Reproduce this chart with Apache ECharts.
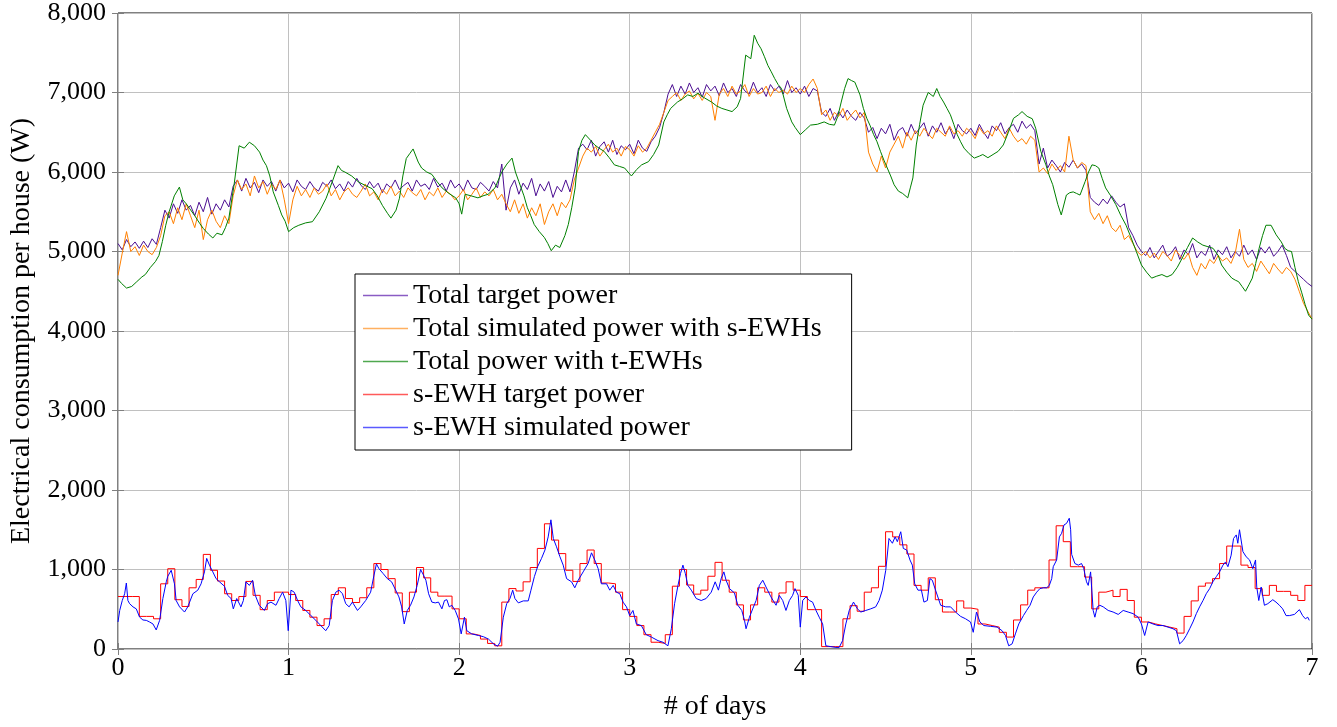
<!DOCTYPE html>
<html>
<head>
<meta charset="utf-8">
<script src="https://cdn.jsdelivr.net/npm/echarts@6/dist/echarts.min.js"></script>
<style>html,body{margin:0;padding:0;background:#fff}#c{width:1337px;height:727px}</style>
</head>
<body>
<div id="c"></div>
<script>
// ---------- DATA ----------
const xTicks = [0, 1, 2, 3, 4, 5, 6, 7];
const yTicks = [0, 1000, 2000, 3000, 4000, 5000, 6000, 7000, 8000];
const seriesNames = ['Total target power', 'Total simulated power with s-EWHs', 'Total power with t-EWHs', 's-EWH target power', 's-EWH simulated power'];

// total series sampled every 0.025 day (40 samples per day)
const SAMPLE_STEP_DAYS = 0.025;
const totalTargetPower = [
  5100,5020,5150,5060,5120,5040,5130,5050,5160,5090,5300,5520,5420,5600,5480,5650,5520,5580,5450,5620,5500,5680,5470,5600,5520,5650,5560,5820,5900,5760,5920,5800,5870,5740,5900,5820,5880,5760,5900,5800,
  5860,5750,5900,5820,5780,5880,5800,5760,5870,5820,5900,5790,5850,5760,5880,5810,5920,5830,5780,5880,5800,5860,5740,5850,5800,5900,5780,5830,5870,5760,5900,5820,5850,5780,5920,5810,5860,5760,5900,5800,
  5850,5760,5900,5800,5780,5870,5820,5760,5880,5800,6100,5520,5800,5900,5720,5860,5780,5920,5700,5850,5760,5880,5680,5820,5750,5900,5750,6000,6300,6350,6280,6400,6200,6320,6380,6250,6400,6220,6330,6280,
  6350,6230,6400,6300,6260,6380,6450,6560,6750,6980,7100,6950,7080,6980,7120,7000,7060,6940,7100,7020,7080,6960,7120,7000,7050,6950,7100,7020,6980,7130,7000,7060,6950,7100,7020,7080,6980,7150,7000,7060,
  6980,7080,6950,7050,7020,6750,6700,6800,6650,6760,6680,6780,6700,6650,6750,6680,6500,6560,6420,6550,6480,6600,6400,6520,6560,6450,6600,6480,6550,6620,6450,6580,6500,6620,6480,6560,6420,6600,6520,6480,
  6550,6460,6600,6500,6420,6580,6520,6620,6480,6560,6600,6500,6640,6550,6600,6520,6100,6300,6050,6150,6080,6000,6120,6060,6150,6050,6100,6020,5680,5620,5580,5660,5600,5700,5620,5560,5600,5300,5200,5080,
  5000,4950,5050,4920,5000,5080,4940,4980,5060,4900,5020,4960,5100,4920,5000,4950,5080,4900,5020,4960,5060,4920,5000,4940,5080,4960,5020,4900,5050,4980,5060,4940,5000,5080,4950,4800,4750,4700,4650,4600,
  4560
];
const totalSimulatedPower = [
  4700,4980,5250,5000,5060,4950,5080,5000,4960,5050,5200,5450,5500,5350,5550,5400,5600,5450,5300,5520,5150,5400,5520,5380,5300,5450,5350,5700,5900,5780,5850,5700,5950,5800,5880,5720,5850,5780,5900,5650,
  5350,5650,5820,5700,5780,5680,5800,5720,5760,5850,5700,5780,5650,5750,5800,5720,5680,5760,5850,5700,5750,5650,5780,5720,5820,5700,5760,5680,5800,5740,5700,5780,5650,5750,5700,5800,5680,5760,5720,5650,
  5700,5780,5650,5720,5800,5680,5750,5700,5780,5650,5720,5600,5500,5650,5480,5600,5420,5550,5450,5600,5340,5500,5600,5450,5620,5550,5650,5900,6050,6200,6300,6250,6320,6200,6280,6350,6250,6300,6200,6320,
  6280,6200,6330,6250,6300,6400,6500,6600,6750,6900,6950,7000,6900,6980,7020,6920,6990,6900,7000,6950,6650,6980,7050,6950,7080,6980,7020,7100,6950,7050,6980,7000,7080,6950,7050,7000,7030,6980,7080,7000,
  7050,7000,7100,7170,7050,6720,6780,6650,6750,6700,6800,6650,6720,6780,6680,6750,6250,6100,6000,6200,6050,6250,6350,6450,6300,6500,6400,6520,6450,6550,6480,6420,6550,6500,6450,6580,6480,6520,6450,6550,
  6500,6420,6560,6480,6520,6450,6580,6500,6420,6550,6450,6380,6420,6350,6450,6400,6000,6050,5980,6100,6020,6080,6000,6450,6150,6050,6120,6080,5500,5400,5480,5350,5450,5300,5250,5330,5150,5200,5100,5000,
  4950,5000,4920,4980,4900,5000,4950,4880,5020,4950,4900,4980,4800,4700,4850,4780,4900,4850,4950,4880,4920,4850,4980,5280,4900,4800,4850,4750,4880,4800,4720,4850,4780,4720,4800,4750,4650,4500,4350,4250,
  4150
];
// [day, W]
const totalPowerTEWH = [
  [0,4650],[0.02,4600],[0.05,4540],[0.08,4560],[0.11,4620],[0.14,4680],[0.16,4710],[0.19,4800],[0.22,4875],[0.24,4950],
  [0.26,5125],[0.28,5330],[0.30,5500],[0.33,5700],[0.36,5810],[0.38,5650],[0.40,5600],[0.42,5540],[0.45,5450],[0.48,5350],
  [0.50,5290],[0.53,5220],[0.556,5170],[0.58,5230],[0.61,5210],[0.63,5300],[0.65,5420],[0.68,5830],[0.71,6330],[0.74,6300],
  [0.77,6375],[0.80,6330],[0.83,6250],[0.85,6150],[0.87,6080],[0.89,5950],[0.91,5750],[0.94,5580],[0.96,5460],[0.98,5380],
  [1.0,5250],[1.03,5300],[1.06,5330],[1.10,5360],[1.14,5375],[1.18,5500],[1.22,5670],[1.26,5900],[1.29,6080],[1.31,6020],
  [1.33,6000],[1.37,5950],[1.41,5875],[1.45,5830],[1.49,5790],[1.52,5700],[1.55,5580],[1.58,5480],[1.60,5420],[1.63,5520],
  [1.65,5670],[1.67,5950],[1.69,6170],[1.71,6230],[1.73,6290],[1.76,6125],[1.78,6050],[1.81,6000],[1.84,5970],[1.87,5880],
  [1.90,5800],[1.94,5730],[1.98,5675],[2.0,5600],[2.015,5470],[2.035,5720],[2.07,5700],[2.11,5675],[2.14,5700],[2.17,5720],
  [2.21,5800],[2.25,6000],[2.28,6100],[2.31,6175],[2.33,6000],[2.35,5880],[2.38,5700],[2.40,5550],[2.42,5450],[2.44,5340],
  [2.47,5250],[2.50,5175],[2.52,5100],[2.54,5010],[2.565,5080],[2.59,5050],[2.62,5200],[2.64,5340],[2.66,5550],[2.68,5800],
  [2.70,6260],[2.72,6400],[2.74,6470],[2.77,6400],[2.795,6340],[2.82,6300],[2.85,6260],[2.88,6180],[2.91,6090],[2.94,6070],
  [2.97,6050],[3.01,5950],[3.04,6030],[3.07,6090],[3.11,6130],[3.14,6220],[3.17,6340],[3.20,6630],[3.22,6720],[3.24,6800],
  [3.28,6880],[3.31,6920],[3.34,6970],[3.37,6950],[3.40,6990],[3.44,6930],[3.48,6880],[3.51,6830],[3.54,6800],[3.57,6780],
  [3.60,6760],[3.63,6820],[3.65,6925],[3.68,7470],[3.71,7425],[3.73,7720],[3.75,7620],[3.77,7550],[3.79,7450],[3.81,7340],
  [3.83,7260],[3.85,7175],[3.87,7100],[3.89,7050],[3.92,6800],[3.95,6630],[3.97,6560],[4.0,6470],[4.03,6530],[4.06,6590],
  [4.10,6600],[4.14,6630],[4.17,6600],[4.20,6590],[4.22,6700],[4.24,6880],[4.26,7050],[4.28,7175],[4.30,7150],[4.32,7130],
  [4.35,6970],[4.37,6800],[4.39,6675],[4.41,6580],[4.43,6470],[4.45,6380],[4.47,6260],[4.49,6150],[4.51,6050],[4.53,5950],
  [4.55,5840],[4.575,5760],[4.60,5730],[4.63,5675],[4.645,5800],[4.66,5925],[4.68,6340],[4.70,6600],[4.72,6840],[4.75,7000],
  [4.78,6950],[4.80,7050],[4.82,6950],[4.84,6880],[4.86,6800],[4.88,6720],[4.90,6600],[4.92,6470],[4.94,6380],[4.96,6300],
  [4.99,6230],[5.02,6175],[5.05,6200],[5.07,6220],[5.10,6180],[5.13,6220],[5.16,6260],[5.19,6340],[5.22,6500],[5.25,6675],
  [5.28,6720],[5.30,6760],[5.33,6700],[5.36,6670],[5.38,6550],[5.41,6260],[5.44,6090],[5.46,5950],[5.48,5840],[5.51,5590],
  [5.53,5460],[5.56,5710],[5.58,5740],[5.60,5750],[5.62,5730],[5.64,5710],[5.67,5880],[5.69,6000],[5.71,6090],[5.73,6080],
  [5.75,6050],[5.77,5920],[5.79,5800],[5.82,5700],[5.85,5590],[5.88,5450],[5.91,5330],[5.94,5170],[5.97,5000],[6.0,4830],
  [6.03,4740],[6.06,4665],[6.09,4690],[6.12,4710],[6.15,4680],[6.18,4710],[6.21,4800],[6.24,4920],[6.27,5050],[6.30,5170],
  [6.33,5120],[6.36,5080],[6.39,5060],[6.42,5040],[6.45,4950],[6.47,4830],[6.50,4740],[6.53,4665],[6.55,4640],[6.57,4620],
  [6.59,4560],[6.61,4500],[6.63,4580],[6.65,4665],[6.67,4850],[6.69,5040],[6.71,5200],[6.73,5330],[6.76,5330],[6.79,5210],
  [6.82,5120],[6.84,5040],[6.86,5010],[6.88,5000],[6.90,4800],[6.92,4620],[6.94,4480],[6.96,4330],[6.98,4200],[7.0,4150]
];
// hourly s-EWH target (168 hours)
const sEWHTargetHourly = [
  660,660,660,410,410,380,820,1010,620,535,770,875,1190,990,855,695,610,660,850,675,495,610,715,715,
  685,610,485,400,295,380,685,770,635,585,645,770,1075,1000,885,705,470,715,1025,895,715,665,665,505,
  380,190,170,125,70,40,590,760,730,845,1025,1265,1575,1370,1200,990,850,1075,1245,1075,830,820,715,495,
  410,295,180,85,70,180,790,1000,805,690,740,915,1090,865,715,555,365,555,770,715,590,705,845,740,
  660,495,495,30,30,30,380,545,475,715,770,1040,1475,1410,1310,1195,800,740,895,620,465,465,605,515,
  500,315,295,275,210,150,365,555,740,770,770,1120,1550,1350,1035,1035,905,505,715,740,660,750,610,400,
  340,315,295,275,255,200,410,605,790,830,885,1075,1295,1295,1055,1025,760,675,800,725,725,675,610,800
];
// [day, W]
const sEWHSimulated = [
  [0,340],[0.010,485],[0.025,610],[0.039,695],[0.049,830],[0.058,610],[0.068,570],[0.088,530],[0.107,505],[0.127,400],[0.146,365],[0.166,360],[0.185,340],[0.205,315],[0.224,240],[0.244,360],[0.263,635],[0.283,845],[0.292,915],[0.312,990],
  [0.331,820],[0.341,610],[0.361,530],[0.390,465],[0.409,530],[0.439,695],[0.468,740],[0.487,820],[0.507,970],[0.520,1140],[0.536,1055],[0.556,970],[0.575,885],[0.595,845],[0.624,790],[0.643,675],[0.663,635],[0.676,505],[0.696,635],[0.721,530],
  [0.735,610],[0.750,845],[0.770,800],[0.789,865],[0.805,675],[0.828,550],[0.858,485],[0.877,570],[0.897,590],[0.926,550],[0.945,635],[0.965,715],[0.984,610],[0.998,230],[1.014,740],[1.033,715],[1.053,610],[1.072,530],[1.101,485],[1.131,420],
  [1.160,360],[1.189,295],[1.218,230],[1.238,295],[1.257,610],[1.277,715],[1.296,740],[1.316,695],[1.335,570],[1.355,530],[1.374,590],[1.404,485],[1.423,530],[1.452,610],[1.481,715],[1.501,930],[1.515,1070],[1.530,1010],[1.554,950],[1.579,885],
  [1.604,845],[1.628,740],[1.647,655],[1.663,530],[1.678,315],[1.696,485],[1.715,550],[1.735,655],[1.754,800],[1.774,1000],[1.791,930],[1.805,865],[1.821,695],[1.840,590],[1.860,580],[1.879,590],[1.899,505],[1.914,610],[1.928,620],[1.942,530],
  [1.957,550],[1.977,485],[1.996,380],[2.012,190],[2.031,400],[2.045,230],[2.074,190],[2.113,170],[2.142,155],[2.172,125],[2.201,65],[2.226,35],[2.240,85],[2.259,400],[2.279,570],[2.298,635],[2.314,740],[2.327,635],[2.347,580],[2.376,605],
  [2.405,605],[2.421,740],[2.441,910],[2.460,1035],[2.483,1140],[2.503,1245],[2.522,1410],[2.538,1625],[2.552,1390],[2.571,1285],[2.591,1160],[2.610,1055],[2.630,885],[2.659,845],[2.678,770],[2.698,865],[2.727,970],[2.756,1075],[2.776,1210],[2.795,1120],
  [2.815,1010],[2.834,820],[2.864,820],[2.883,740],[2.903,800],[2.922,715],[2.942,695],[2.961,590],[2.981,530],[3.000,420],[3.019,485],[3.039,315],[3.068,295],[3.097,180],[3.127,150],[3.166,105],[3.195,85],[3.224,40],[3.244,255],[3.263,570],
  [3.283,800],[3.298,950],[3.312,1055],[3.326,950],[3.341,800],[3.361,740],[3.390,635],[3.419,610],[3.448,635],[3.478,715],[3.501,845],[3.520,740],[3.536,885],[3.552,970],[3.565,865],[3.585,760],[3.614,705],[3.634,550],[3.657,485],[3.673,360],
  [3.682,255],[3.702,400],[3.721,505],[3.741,610],[3.760,800],[3.780,865],[3.799,780],[3.828,655],[3.858,550],[3.877,675],[3.897,610],[3.916,485],[3.936,610],[3.955,675],[3.969,760],[3.988,675],[4.000,275],[4.014,610],[4.033,655],[4.053,610],
  [4.072,590],[4.092,485],[4.111,400],[4.131,315],[4.150,40],[4.179,30],[4.209,20],[4.228,20],[4.248,105],[4.267,315],[4.287,485],[4.312,590],[4.335,505],[4.355,465],[4.384,485],[4.413,505],[4.442,530],[4.462,610],[4.481,740],[4.501,990],
  [4.520,1390],[4.540,1330],[4.556,1410],[4.569,1350],[4.589,1475],[4.604,1265],[4.624,1245],[4.643,1120],[4.657,1055],[4.671,820],[4.690,740],[4.710,740],[4.725,590],[4.745,610],[4.760,885],[4.774,865],[4.793,740],[4.823,550],[4.852,530],[4.881,530],
  [4.910,465],[4.940,410],[4.969,380],[4.998,340],[5.014,210],[5.033,465],[5.053,340],[5.076,295],[5.115,285],[5.154,275],[5.183,230],[5.203,170],[5.222,40],[5.242,65],[5.261,190],[5.281,315],[5.308,420],[5.327,485],[5.347,550],[5.366,655],
  [5.386,715],[5.405,760],[5.425,770],[5.444,770],[5.460,800],[5.474,885],[5.483,1035],[5.503,1120],[5.519,1410],[5.532,1455],[5.546,1560],[5.561,1580],[5.577,1645],[5.585,1500],[5.591,1190],[5.610,1075],[5.630,1055],[5.649,1075],[5.662,1010],[5.678,845],
  [5.688,800],[5.702,970],[5.717,485],[5.727,400],[5.741,530],[5.756,550],[5.776,530],[5.805,485],[5.834,465],[5.864,435],[5.893,485],[5.922,465],[5.951,445],[5.981,400],[6.000,315],[6.019,170],[6.039,340],[6.068,315],[6.097,295],[6.127,295],
  [6.156,275],[6.185,255],[6.205,230],[6.224,65],[6.244,105],[6.263,170],[6.283,255],[6.302,340],[6.322,445],[6.341,530],[6.361,610],[6.380,695],[6.400,760],[6.419,845],[6.439,910],[6.458,970],[6.478,1055],[6.493,1095],[6.507,1035],[6.526,1180],
  [6.540,1390],[6.556,1435],[6.565,1330],[6.575,1500],[6.585,1520],[6.595,1225],[6.614,1160],[6.634,1120],[6.653,1010],[6.669,1120],[6.676,780],[6.688,610],[6.702,780],[6.721,550],[6.741,570],[6.770,620],[6.789,590],[6.809,550],[6.828,505],[6.848,420],
  [6.867,420],[6.897,435],[6.926,495],[6.945,420],[6.961,380],[6.975,400],[6.984,360]
];

// ---------- CHART ----------
const FONT = "'Liberation Serif', 'DejaVu Serif', serif";
const colors = ['#4B0D91', '#FF8000', '#008000', '#FF0000', '#0000FF'];
const legendColors = ['#8A5CC4', '#FFB060', '#4FA84F', '#FF5A5A', '#5A5AFF'];
const fmt = v => String(v).replace(/\B(?=(\d{3})+(?!\d))/g, ',');

const chart = echarts.init(document.getElementById('c'), null, {renderer: 'canvas'});

const redData = sEWHTargetHourly.map((v, h) => [h / 24, v]);
redData.push([sEWHTargetHourly.length / 24, sEWHTargetHourly[sEWHTargetHourly.length - 1]]);

const lineSeries = (i, data, extra) => Object.assign({
  name: seriesNames[i], type: 'line', data: data,
  showSymbol: false, symbol: 'none', animation: false,
  lineStyle: {color: colors[i], width: 1}, itemStyle: {color: colors[i]},
  xAxisIndex: 0, yAxisIndex: 0, z: 2 + i
}, extra || {});

chart.setOption({
  animation: false,
  backgroundColor: '#fff',
  textStyle: {fontFamily: FONT},
  grid: {left: 115, right: 25, top: 10, bottom: 78, show: true, borderColor: '#000', borderWidth: 1, backgroundColor: 'transparent'},
  legend: {
    show: true, orient: 'vertical', left: 355, top: 274,
    padding: [5, 30, 6, 8], itemGap: 0, itemWidth: 45, itemHeight: 1.5,
    borderColor: '#000', borderWidth: 1, backgroundColor: '#fff',
    textStyle: {fontFamily: FONT, fontSize: 28, color: '#000', lineHeight: 33},
    data: seriesNames.map((n, i) => ({name: n, icon: 'rect', itemStyle: {color: legendColors[i], borderWidth: 0}}))
  },
  xAxis: [{
    type: 'value', min: xTicks[0], max: xTicks[xTicks.length - 1], interval: 1,
    name: '# of days', nameLocation: 'middle', nameGap: 44,
    nameTextStyle: {fontFamily: FONT, fontSize: 28, color: '#000'},
    axisLine: {show: false},
    axisTick: {show: true, inside: true, length: 6, lineStyle: {color: '#7f7f7f'}},
    axisLabel: {fontFamily: FONT, fontSize: 26, color: '#000', margin: 6},
    splitLine: {show: true, lineStyle: {color: '#c0c0c0', width: 1}}
  }, {
    type: 'value', position: 'top', min: xTicks[0], max: xTicks[xTicks.length - 1], interval: 1,
    axisLine: {show: false}, axisLabel: {show: false}, splitLine: {show: false},
    axisTick: {show: true, inside: true, length: 6, lineStyle: {color: '#7f7f7f'}}
  }],
  yAxis: [{
    type: 'value', min: yTicks[0], max: yTicks[yTicks.length - 1], interval: 1000,
    name: 'Electrical consumption per house (W)', nameLocation: 'middle', nameGap: 82, nameRotate: 90,
    nameTextStyle: {fontFamily: FONT, fontSize: 28, color: '#000'},
    axisLine: {show: false},
    axisTick: {show: true, inside: true, length: 6, lineStyle: {color: '#7f7f7f'}},
    axisLabel: {fontFamily: FONT, fontSize: 26, color: '#000', margin: 12, formatter: fmt},
    splitLine: {show: true, lineStyle: {color: '#c0c0c0', width: 1}}
  }, {
    type: 'value', position: 'right', min: yTicks[0], max: yTicks[yTicks.length - 1], interval: 1000,
    axisLine: {show: false}, axisLabel: {show: false}, splitLine: {show: false},
    axisTick: {show: true, inside: true, length: 6, lineStyle: {color: '#7f7f7f'}}
  }],
  series: [
    lineSeries(0, totalTargetPower.map((v, i) => [i * SAMPLE_STEP_DAYS, v])),
    lineSeries(1, totalSimulatedPower.map((v, i) => [i * SAMPLE_STEP_DAYS, v])),
    lineSeries(2, totalPowerTEWH),
    lineSeries(3, redData, {step: 'end'}),
    lineSeries(4, sEWHSimulated)
  ]
});
</script>
</body>
</html>
